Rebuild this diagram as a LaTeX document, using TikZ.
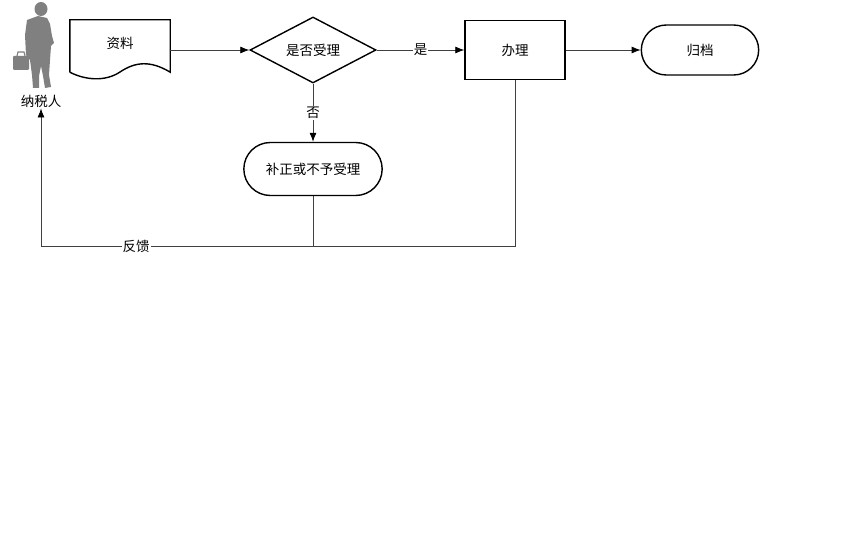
\documentclass[tikz,border=0pt]{standalone}
\usepackage{fontspec}
\setmainfont{Noto Sans CJK SC}
\usetikzlibrary{arrows.meta}
\usetikzlibrary{shapes}
\usetikzlibrary{positioning}
\begin{document}
\begin{tikzpicture}[x=1pt, y=-1pt]
            \tikzset{every node/.style={font=\fontsize{13.5}{16}\selectfont},
                    >={Latex[black, length=9pt, width=7pt]},
                    box/.style={draw, line width=1.4pt, rectangle, minimum width=100pt, minimum height=59pt},
                    term/.style={draw, line width=1.4pt, rounded rectangle, minimum height=50pt},
                    decide/.style={draw, line width=1.4pt, diamond, aspect=1.9, minimum width=126pt, minimum height=66pt, inner sep=0pt},
                    lbl/.style={fill=white, inner sep=1pt},
                    link/.style={draw=black!75, line width=0.8pt},
                    every edge/.style={link}}
            \useasboundingbox (0,0) rectangle (864,540);
            % taxpayer figure
            \fill[black!50] (41,9) ellipse (6.5 and 7);
            \fill[black!50] (27,20) -- (38,16) -- (47,18) -- (50,24) -- (52,36) -- (54,43)
                -- (51,46) -- (50,60) -- (49,75) -- (51,87) -- (45,88) -- (43,76) -- (41,66)
                -- (39,76) -- (39,88) -- (33,88) -- (32,75) -- (30,60) -- (26,55) -- (25,35) -- cycle;
            \fill[black!50, rounded corners=1pt] (13,56) rectangle (29,70);
            \draw[black!50, line width=1.2pt] (17,56) -- (18,52) -- (24,52) -- (25,56);
            \node[inner sep=1pt] (nsr) at (41,101) {纳税人};
            % document
            \node[minimum width=100pt, minimum height=52pt] (zl) at (120,46) {};
            \node at (120,43) {资料};
            \draw[line width=1.4pt] (zl.south west) -- (zl.north west) -- (zl.north east) -- (zl.south east)
                .. controls (150,60) and (135,62) .. (120,72) .. controls (105,82) and (85,80) .. (zl.south west);
            \node[decide] (sf) at (313,50) {是否受理};
            \node[box] (bl) at (515,50) {办理};
            \node[term, minimum width=124pt] (gd) at (700,50) {归档};
            \node[term, minimum width=145pt, minimum height=53pt] (bz) at (313,169) {补正或不予受理};
            \coordinate (fb) at (41,246);
            \path [->] (zl.east |- sf.west) edge (sf.west);
            \path [->] (sf.east) edge node[lbl] {是} (bl.west);
            \path [->] (bl.east) edge (gd.west);
            \path [->] (sf.south) edge node[lbl] {否} (bz.north);
            \draw[link, ->] (bl.south) |- (fb) -- (nsr.south);
            \draw[link] (bz.south) -- (bz.south |- fb);
            \node[lbl] (fk) at (136,246) {反馈};
        \end{tikzpicture}
\end{document}
